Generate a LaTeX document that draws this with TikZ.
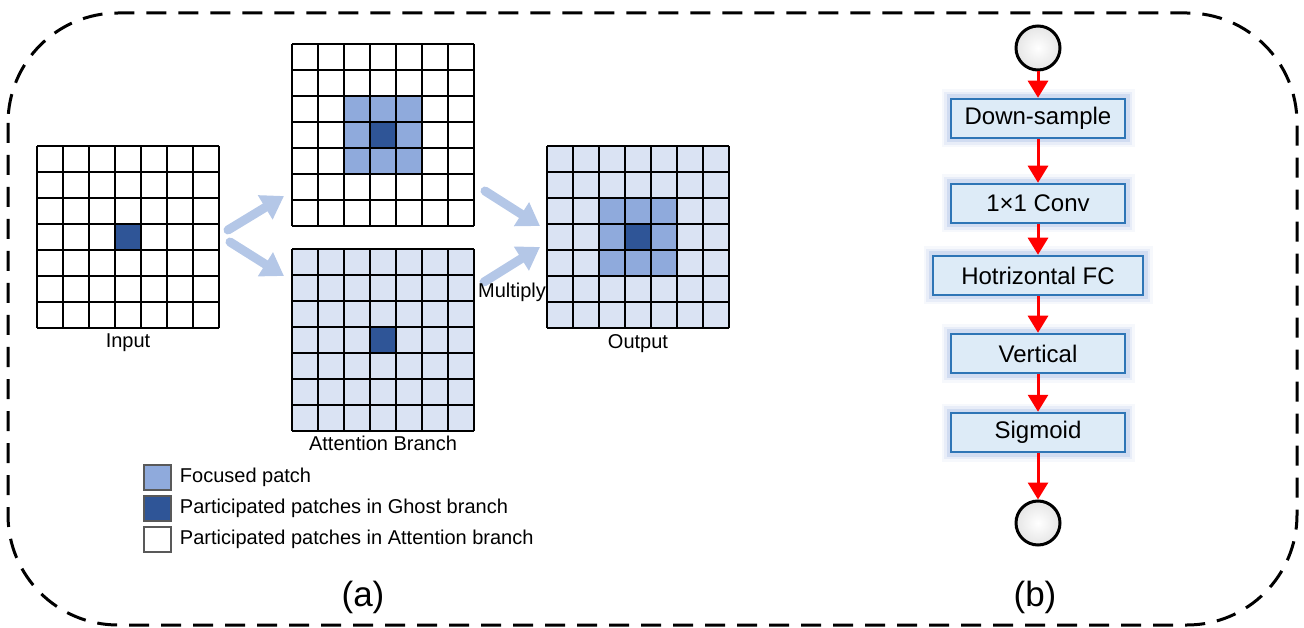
\documentclass[tikz,border=0pt]{standalone}
\usepackage{fontspec}
\setmainfont{Liberation Sans}
\usepackage{tikz}
\usetikzlibrary{arrows.meta}
\usetikzlibrary{positioning}
\definecolor{lightpatch}{HTML}{DAE3F3}
\definecolor{focpatch}{HTML}{8FAADC}
\definecolor{darkpatch}{HTML}{2F5597}
\definecolor{flowblue}{HTML}{B4C7E7}
\definecolor{boxfill}{HTML}{DDEBF7}
\definecolor{boxline}{HTML}{2E75B6}
\definecolor{glowblue}{HTML}{8FAADC}
\tikzstyle{cellarea} = [rectangle, minimum size=182pt, inner sep=0pt, outer sep=0pt]
\tikzstyle{lab} = [font=\fontsize{20}{24}\selectfont, inner sep=0pt]
\tikzstyle{legbox} = [rectangle, draw=black!65, line width=1.5pt, minimum width=27pt, minimum height=25pt, inner sep=0pt]
\tikzstyle{flow} = [draw=flowblue, line width=9pt, line cap=round, -{Triangle[width=27pt,length=22pt]}]
\tikzstyle{stage} = [rectangle, draw=boxline, line width=2.5pt, fill=boxfill, minimum width=174pt, minimum height=39pt, text centered, font=\fontsize{24}{28}\selectfont, preaction={draw=glowblue, line width=19pt, opacity=0.08}, preaction={draw=glowblue, line width=14pt, opacity=0.14}, preaction={draw=glowblue, line width=9pt, opacity=0.25}]
\tikzstyle{term} = [circle, draw=black, line width=3pt, minimum size=44pt, inner sep=0pt, inner color=white, outer color=black!10]
\tikzstyle{redarrow} = [draw=red, line width=3pt, -{Triangle[width=20pt,length=17pt]}]

\begin{document}
\begin{tikzpicture}[x=1pt, y=-1pt, node distance=5pt]
\useasboundingbox (0,0) rectangle (1304,628);
% outer frame
\draw[line width=3pt, dash pattern=on 20pt off 12pt, rounded corners=110pt] (8,13) rectangle (1297,625);

% (a) patch grids
\node (in) [cellarea, fill=white] at (128,237) {};
\node (foc) [cellarea, fill=white] at (383,135) {};
\node (att) [cellarea, fill=lightpatch] at (383,340) {};
\node (out) [cellarea, fill=lightpatch] at (638,237) {};
\begin{scope}[shift={(in.north west)}]
 \fill[darkpatch] (78,78) rectangle +(26,26);
\end{scope}
\begin{scope}[shift={(foc.north west)}]
 \fill[focpatch] (52,52) rectangle +(78,78);
 \fill[darkpatch] (78,78) rectangle +(26,26);
\end{scope}
\begin{scope}[shift={(att.north west)}]
 \fill[darkpatch] (78,78) rectangle +(26,26);
\end{scope}
\begin{scope}[shift={(out.north west)}]
 \fill[focpatch] (52,52) rectangle +(78,78);
 \fill[darkpatch] (78,78) rectangle +(26,26);
\end{scope}
\foreach \g in {in,foc,att,out} {
 \begin{scope}[shift={(\g.north west)}]
  \foreach \k in {0,...,7} {
   \draw[line width=2pt] (\k*26,0) -- (\k*26,182);
   \draw[line width=2pt] (0,\k*26) -- (182,\k*26);
  }
 \end{scope}
}
\node (inlab) [lab, below=6pt of in] {Input};
\node (attlab) [lab, below=5pt of att] {Attention Branch};
\node (outlab) [lab, below=6pt of out] {Output};

% flow arrows
\coordinate (s1) at (228,230); \coordinate (e1) at (284,196);
\coordinate (s2) at (230,242); \coordinate (e2) at (284,276);
\coordinate (s3) at (485,191); \coordinate (e3) at (540,226);
\coordinate (s4) at (484,282); \coordinate (e4) at (540,247);
\draw[flow] (s1) -- (e1);
\draw[flow] (s2) -- (e2);
\draw[flow] (s3) -- (e3);
\draw[flow] (s4) -- (e4);
\node (mul) [lab] at (512,292) {Multiply};

% legend
\node (lf) [legbox, fill=focpatch] at (157.5,477.5) {};
\node (lg) [legbox, fill=darkpatch, below=4.5pt of lf] {};
\node (la) [legbox, fill=white, below=4.5pt of lg] {};
\node [lab, right=8pt of lf] {Focused patch};
\node [lab, right=8pt of lg] {Participated patches in Ghost branch};
\node [lab, right=8pt of la] {Participated patches in Attention branch};
\node (capa) [font=\fontsize{35}{40}\selectfont] at (363,597) {(a)};

% (b) pipeline
\node (t0) [term] at (1038,48) {};
\node (ds) [stage] at (1038,118.5) {Down-sample};
\node (conv) [stage] at (1038,203.5) {1×1 Conv};
\node (hfc) [stage, minimum width=210pt] at (1038,275.5) {Hotrizontal FC};
\node (vert) [stage] at (1038,353.5) {Vertical};
\node (sig) [stage] at (1038,432.5) {Sigmoid};
\node (t1) [term] at (1038,523) {};
\draw[redarrow] (t0) -- (ds);
\draw[redarrow] (ds) -- (conv);
\draw[redarrow] (conv) -- (hfc);
\draw[redarrow] (hfc) -- (vert);
\draw[redarrow] (vert) -- (sig);
\draw[redarrow] (sig) -- (t1);
\node (capb) [font=\fontsize{35}{40}\selectfont] at (1035,597) {(b)};
\end{tikzpicture}
\end{document}
